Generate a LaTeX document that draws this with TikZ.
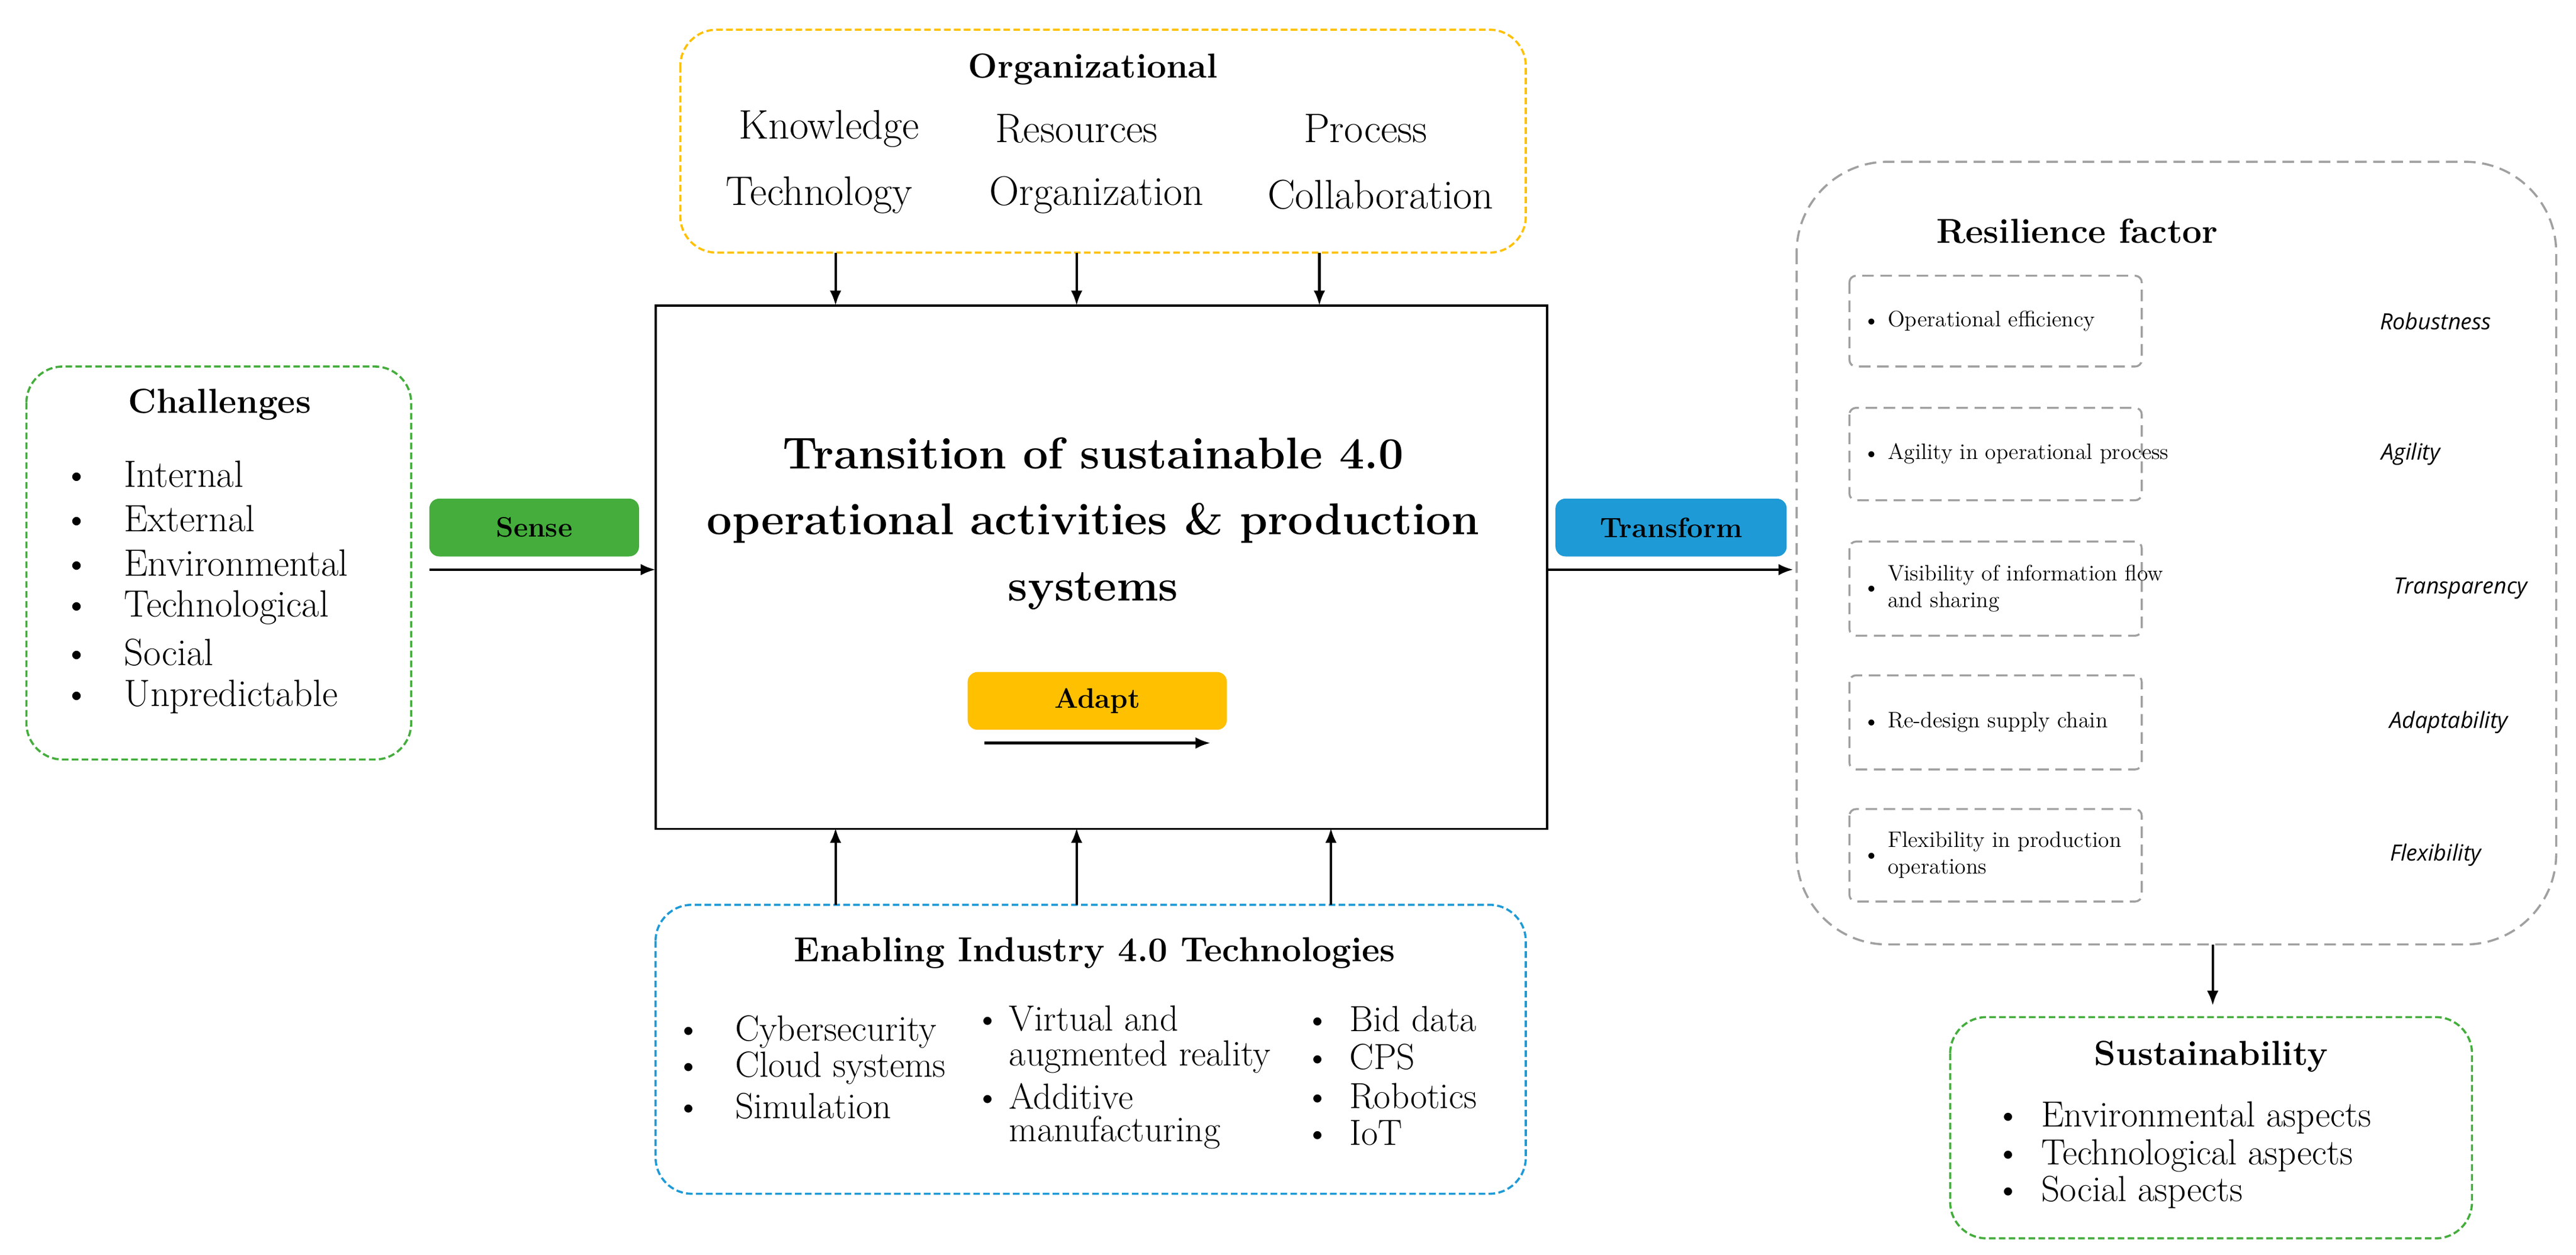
\documentclass[tikz,border=0pt]{standalone}
\usepackage{fontspec}
\newfontfamily\sansit{Open Sans}
\usetikzlibrary{arrows.meta}
\definecolor{yel}{HTML}{FFC000}
\definecolor{grn}{HTML}{44AD3C}
\definecolor{blu}{HTML}{1E9AD6}
\definecolor{gry}{HTML}{A0A0A0}
\newcommand{\bul}[1]{\makebox[#1][l]{\textbullet}}
\begin{document}
\begin{tikzpicture}[x=1pt,y=-1pt,
  dbox/.style={draw=#1,dashed,line width=1.3pt,rounded corners=22pt,dash pattern=on 4pt off 2pt},
  ibox/.style={draw=gry,dashed,line width=1.2pt,rounded corners=4pt,dash pattern=on 7pt off 4pt},
  arr/.style={-{Latex[length=9pt,width=7pt]},line width=1.5pt},
  t/.style={font=\fontsize{25}{28}\selectfont,inner sep=0pt},
  tl/.style={font=\fontsize{22}{24}\selectfont,inner sep=0pt,anchor=west},
  tt/.style={font=\fontsize{21}{26}\selectfont\bfseries,inner sep=0pt},
  s/.style={font=\fontsize{13.5}{16}\selectfont,inner sep=0pt,anchor=west,align=left},
  it/.style={font=\fontsize{13.5}{16}\selectfont\sansit\itshape,inner sep=0pt},
  lab/.style={rounded corners=6pt,minimum width=#1,minimum height=35pt,font=\fontsize{17}{20}\selectfont\bfseries,inner sep=0pt}]
\useasboundingbox (0,0) rectangle (1560,760);
% Organizational
\draw[dbox=yel] (412,18) rectangle (924,153);
\node[tt] (orgt) at (662,42) {Organizational};
\node[t] (o1) at (502,78) {Knowledge};
\node[t] (o2) at (652,78) {Resources};
\node[t] (o3) at (827,78) {Process};
\node[t] (o4) at (496,118) {Technology};
\node[t] (o5) at (664,118) {Organization};
\node[t] (o6) at (836,118) {Collaboration};
% main
\node[draw,line width=1.3pt,minimum width=540pt,minimum height=317pt,inner sep=0pt] (main) at (667,343.5) {};
\node[font=\fontsize{27}{40}\selectfont\bfseries,align=center] (mt) at (662,317) {Transition of sustainable 4.0\\operational activities \& production\\systems};
\node[lab=157pt,fill=yel] (adapt) at (664.5,424.5) {Adapt};
\coordinate (a1) at (596,450); \coordinate (a2) at (733,450);
\draw[arr] (a1) -- (a2);
\coordinate (ot1) at (506,153); \coordinate (ot2) at (652,153); \coordinate (ot3) at (799,153);
\draw[arr] (ot1) -- (506,185); \draw[arr] (ot2) -- (652,185); \draw[arr] (ot3) -- (799,185);
% Enabling
\draw[dbox=blu] (397,548) rectangle (924,723);
\coordinate (e1) at (506,548); \coordinate (e2) at (652,548); \coordinate (e3) at (806,548);
\draw[arr] (e1) -- (506,501.5); \draw[arr] (e2) -- (652,501.5); \draw[arr] (e3) -- (806,501.5);
\node[tt] (et) at (663,577) {Enabling Industry 4.0 Technologies};
\foreach \y/\txt [count=\i] in {625/Cybersecurity,647/Cloud systems,670/Simulation}{
  \node[tl] (ec\i) at (409,\y) {\bul{36pt}\txt};}
\node[tl] (fc1) at (590,617) {\bul{21pt}Virtual and};
\node[tl] (fc2) at (611,640) {augmented reality};
\node[tl] (fc3) at (590,664) {\bul{21pt}Additive};
\node[tl] (fc4) at (611,686) {manufacturing};
\foreach \y/\txt [count=\i] in {617/Bid data,640/CPS,664/Robotics,686/IoT}{
  \node[tl] (gc\i) at (790,\y) {\bul{27pt}\txt};}
% Challenges
\draw[dbox=grn] (16,222) rectangle (249,460);
\node[tt] (ct) at (133,245) {Challenges};
\foreach \y/\txt [count=\i] in {287/Internal,314/External,341/Environmental,368/Technological,395/Social,422/Unpredictable}{
  \node[font=\fontsize{23}{26}\selectfont,inner sep=0pt,anchor=west] (cc\i) at (38,\y) {\bul{37pt}\txt};}
% Sense / Transform
\node[lab=127pt,fill=grn] (sense) at (323.5,319.5) {Sense};
\coordinate (s1) at (260,345); \coordinate (s2) at (397,345);
\draw[arr] (s1) -- (s2);
\node[lab=140pt,fill=blu] (trans) at (1012,319.5) {Transform};
\coordinate (t1) at (937,345); \coordinate (t2) at (1086,345);
\draw[arr] (t1) -- (t2);
% Resilience
\draw[draw=gry,dashed,line width=1.3pt,rounded corners=55pt,dash pattern=on 7pt off 4pt] (1088,98) rectangle (1548,572);
\node[tt] (rt) at (1258,140) {Resilience factor};
\foreach \ya/\yb/\txt/\lab/\lx [count=\i] in {167/222/{Operational efficiency}/Robustness/1475,
   247/303/{Agility in operational process}/Agility/1460,
   328/385/{Visibility of information flow\\and sharing}/Transparency/1490,
   409/466/{Re-design supply chain}/Adaptability/1483,
   490/546/{Flexibility in production\\operations}/Flexibility/1475}{
  \draw[ibox] (1120,\ya) rectangle (1297,\yb);
  \node[s] (rx\i) at (1128,{(\ya+\yb)/2}) {\bul{15pt}\begin{tabular}[c]{@{}l@{}}\txt\end{tabular}};
  \node[it] (rl\i) at (\lx,{(\ya+\yb)/2}) {\lab};}
\coordinate (r1) at (1340,572); \coordinate (r2) at (1340,609);
\draw[arr] (r1) -- (r2);
% Sustainability
\draw[dbox=grn] (1181,616) rectangle (1497,750);
\node[tt] (st) at (1339,640) {Sustainability};
\foreach \y/\txt [count=\i] in {677/Environmental aspects,700/Technological aspects,722/Social aspects}{
  \node[tl] (sc\i) at (1208,\y) {\bul{28pt}\txt};}
\end{tikzpicture}
\end{document}
